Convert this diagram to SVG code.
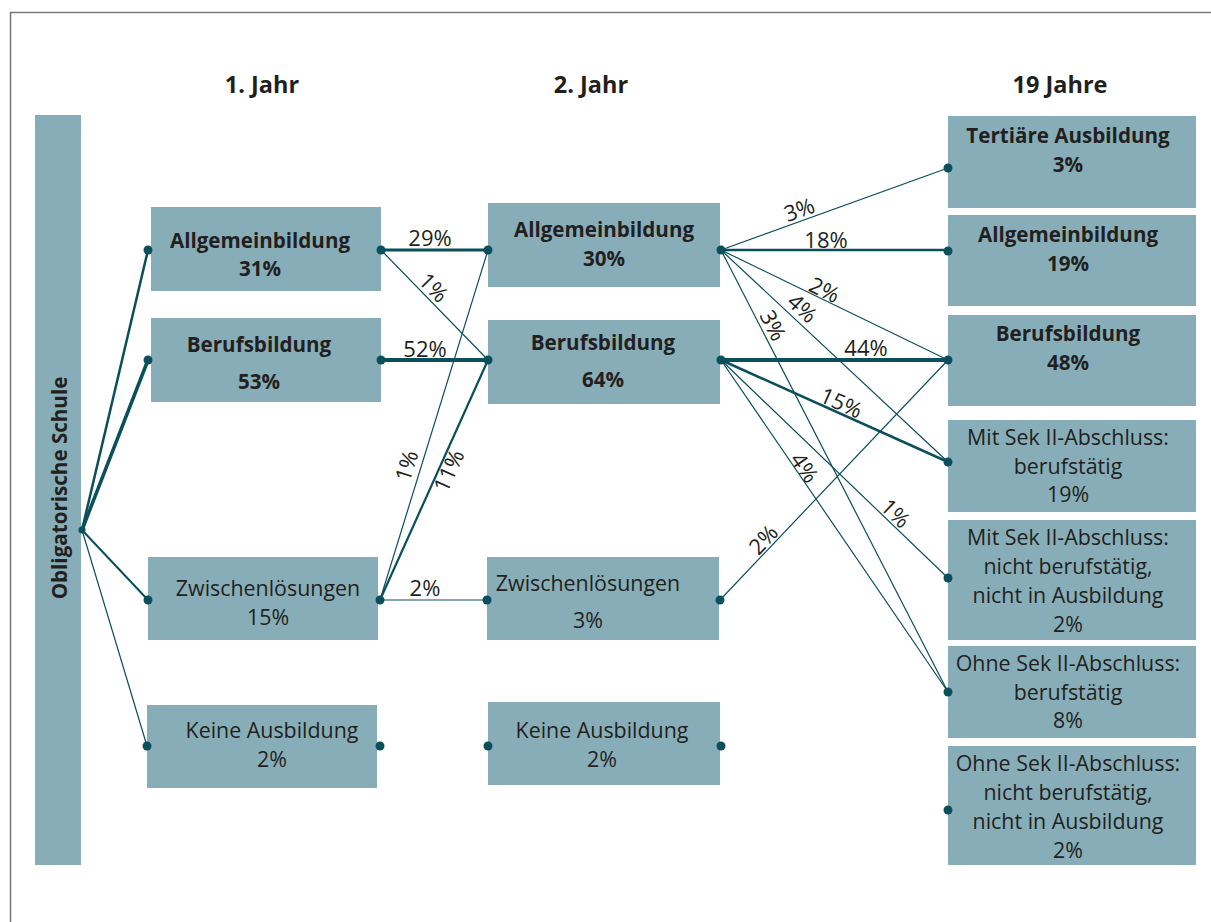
<svg xmlns="http://www.w3.org/2000/svg" width="1211" height="922" viewBox="0 0 1211 922">
<style>
.box{fill:#87aeb8}
.t{font-family:"Open Sans","Noto Sans","Liberation Sans",sans-serif;fill:#231f20;font-size:21.4px;text-anchor:middle}
.b{font-weight:bold;font-size:20.6px}
.h{font-family:"Open Sans","Noto Sans","Liberation Sans",sans-serif;fill:#231f20;font-size:23.5px;font-weight:bold;text-anchor:middle}
.l{font-family:"Open Sans","Noto Sans","Liberation Sans",sans-serif;fill:#231f20;font-size:22px;text-anchor:middle}
.c{stroke:#0b4f5c;fill:none;stroke-linecap:round}
.dot{fill:#0b4f5c}
</style>
<rect width="1211" height="922" fill="#fff"/>
<path d="M10.5 922V12.5H1211" fill="none" stroke="#777" stroke-width="1.5"/>

<g id="headers">
<text class="h" x="262" y="93">1. Jahr</text>
<text class="h" x="591" y="93">2. Jahr</text>
<text class="h" x="1060" y="93">19 Jahre</text>
</g>

<g id="n-oblig">
<rect class="box" x="35" y="115" width="46" height="750"/>
<text class="t b" transform="translate(67,488) rotate(-90)">Obligatorische Schule</text>
</g>

<g id="n1-allg"><rect class="box" x="151" y="207" width="230" height="84"/>
<text class="t b" x="260" y="248">Allgemeinbildung</text><text class="t b" x="260" y="276">31%</text></g>
<g id="n1-beruf"><rect class="box" x="151" y="318" width="230" height="84"/>
<text class="t b" x="259" y="352">Berufsbildung</text><text class="t b" x="259" y="389">53%</text></g>
<g id="n1-zw"><rect class="box" x="148" y="557" width="230" height="83"/>
<text class="t" x="268" y="596">Zwischenlösungen</text><text class="t" x="268" y="625">15%</text></g>
<g id="n1-keine"><rect class="box" x="147" y="705" width="230" height="83"/>
<text class="t" x="272" y="738">Keine Ausbildung</text><text class="t" x="272" y="767">2%</text></g>

<g id="n2-allg"><rect class="box" x="488" y="203" width="232" height="84"/>
<text class="t b" x="604" y="237">Allgemeinbildung</text><text class="t b" x="604" y="266">30%</text></g>
<g id="n2-beruf"><rect class="box" x="488" y="320" width="232" height="84"/>
<text class="t b" x="603" y="350">Berufsbildung</text><text class="t b" x="603" y="387">64%</text></g>
<g id="n2-zw"><rect class="box" x="487" y="557" width="232" height="83"/>
<text class="t" x="588" y="591">Zwischenlösungen</text><text class="t" x="588" y="628">3%</text></g>
<g id="n2-keine"><rect class="box" x="488" y="702" width="232" height="83"/>
<text class="t" x="602" y="738">Keine Ausbildung</text><text class="t" x="602" y="767">2%</text></g>

<g id="n3-tert"><rect class="box" x="948" y="116" width="248" height="92"/>
<text class="t b" x="1068" y="143">Tertiäre Ausbildung</text><text class="t b" x="1068" y="172">3%</text></g>
<g id="n3-allg"><rect class="box" x="948" y="215" width="248" height="91"/>
<text class="t b" x="1068" y="242">Allgemeinbildung</text><text class="t b" x="1068" y="271">19%</text></g>
<g id="n3-beruf"><rect class="box" x="948" y="315" width="248" height="91"/>
<text class="t b" x="1068" y="341">Berufsbildung</text><text class="t b" x="1068" y="370">48%</text></g>
<g id="n3-mit-bt"><rect class="box" x="948" y="420" width="248" height="92"/>
<text class="t" x="1068" y="445">Mit Sek II-Abschluss:</text><text class="t" x="1068" y="474">berufstätig</text><text class="t" x="1068" y="502">19%</text></g>
<g id="n3-mit-nbt"><rect class="box" x="948" y="520" width="248" height="120"/>
<text class="t" x="1068" y="545">Mit Sek II-Abschluss:</text><text class="t" x="1068" y="574">nicht berufstätig,</text><text class="t" x="1068" y="603">nicht in Ausbildung</text><text class="t" x="1068" y="632">2%</text></g>
<g id="n3-ohne-bt"><rect class="box" x="948" y="646" width="248" height="92"/>
<text class="t" x="1068" y="671">Ohne Sek II-Abschluss:</text><text class="t" x="1068" y="700">berufstätig</text><text class="t" x="1068" y="728">8%</text></g>
<g id="n3-ohne-nbt"><rect class="box" x="948" y="746" width="248" height="119"/>
<text class="t" x="1068" y="771">Ohne Sek II-Abschluss:</text><text class="t" x="1068" y="800">nicht berufstätig,</text><text class="t" x="1068" y="829">nicht in Ausbildung</text><text class="t" x="1068" y="858">2%</text></g>

<g id="connectors">
<path class="c" stroke-width="2.5" d="M82 530L148 250"/>
<path class="c" stroke-width="3.5" d="M82 530L148 360"/>
<path class="c" stroke-width="2" d="M82 530L148 600"/>
<path class="c" stroke-width="1.2" d="M82 530L147 746"/>

<path class="c" stroke-width="3" d="M381 250H488"/>
<path class="c" stroke-width="1.2" d="M381 250L488 360"/>
<path class="c" stroke-width="4" d="M381 360H488"/>
<path class="c" stroke-width="1.2" d="M380 600L488 250"/>
<path class="c" stroke-width="2.2" d="M380 600L488 360"/>
<path class="c" stroke-width="1.2" d="M380 600H487"/>

<path class="c" stroke-width="1.2" d="M721 250L948 168"/>
<path class="c" stroke-width="2.5" d="M721 250H948"/>
<path class="c" stroke-width="1.2" d="M721 250L948 360"/>
<path class="c" stroke-width="1.2" d="M721 250L948 462"/>
<path class="c" stroke-width="1.2" d="M721 250L948 692"/>
<path class="c" stroke-width="4" d="M721 360H948"/>
<path class="c" stroke-width="2.5" d="M721 360L948 462"/>
<path class="c" stroke-width="1.2" d="M721 360L948 578"/>
<path class="c" stroke-width="1.2" d="M721 360L948 692"/>
<path class="c" stroke-width="1.2" d="M720 600L948 360"/>

<g class="dot">
<circle cx="82" cy="530" r="3.5"/>
<circle cx="148" cy="250" r="4.5"/><circle cx="381" cy="250" r="4.5"/>
<circle cx="148" cy="360" r="4.5"/><circle cx="381" cy="360" r="4.5"/>
<circle cx="148" cy="600" r="4.5"/><circle cx="380" cy="600" r="4.5"/>
<circle cx="147" cy="746" r="4.5"/><circle cx="380" cy="746" r="4.5"/>
<circle cx="488" cy="250" r="4.5"/><circle cx="721" cy="250" r="4.5"/>
<circle cx="488" cy="360" r="4.5"/><circle cx="721" cy="360" r="4.5"/>
<circle cx="487" cy="600" r="4.5"/><circle cx="720" cy="600" r="4.5"/>
<circle cx="488" cy="746" r="4.5"/><circle cx="721" cy="746" r="4.5"/>
<circle cx="948" cy="168" r="4.5"/><circle cx="948" cy="251" r="4.5"/>
<circle cx="948" cy="360" r="4.5"/><circle cx="948" cy="462" r="4.5"/>
<circle cx="948" cy="578" r="4.5"/><circle cx="948" cy="692" r="4.5"/>
<circle cx="948" cy="810" r="4.5"/>
</g>

<text class="l" x="430" y="246">29%</text>
<text class="l" transform="translate(428,293) rotate(45.8)">1%</text>
<text class="l" x="425" y="357">52%</text>
<text class="l" transform="translate(414,468) rotate(-72.8)">1%</text>
<text class="l" transform="translate(456,474) rotate(-65.8)">11%</text>
<text class="l" x="425" y="596">2%</text>

<text class="l" transform="translate(802,217) rotate(-19.9)">3%</text>
<text class="l" x="826" y="248">18%</text>
<text class="l" transform="translate(821,297) rotate(25.8)">2%</text>
<text class="l" transform="translate(797,314) rotate(43)">4%</text>
<text class="l" transform="translate(766,329) rotate(62.8)">3%</text>
<text class="l" x="866" y="356">44%</text>
<text class="l" transform="translate(838,410) rotate(24.2)">15%</text>
<text class="l" transform="translate(798,472) rotate(55.6)">4%</text>
<text class="l" transform="translate(890,519) rotate(43.8)">1%</text>
<text class="l" transform="translate(769,545) rotate(-46.5)">2%</text>
</g>
</svg>
